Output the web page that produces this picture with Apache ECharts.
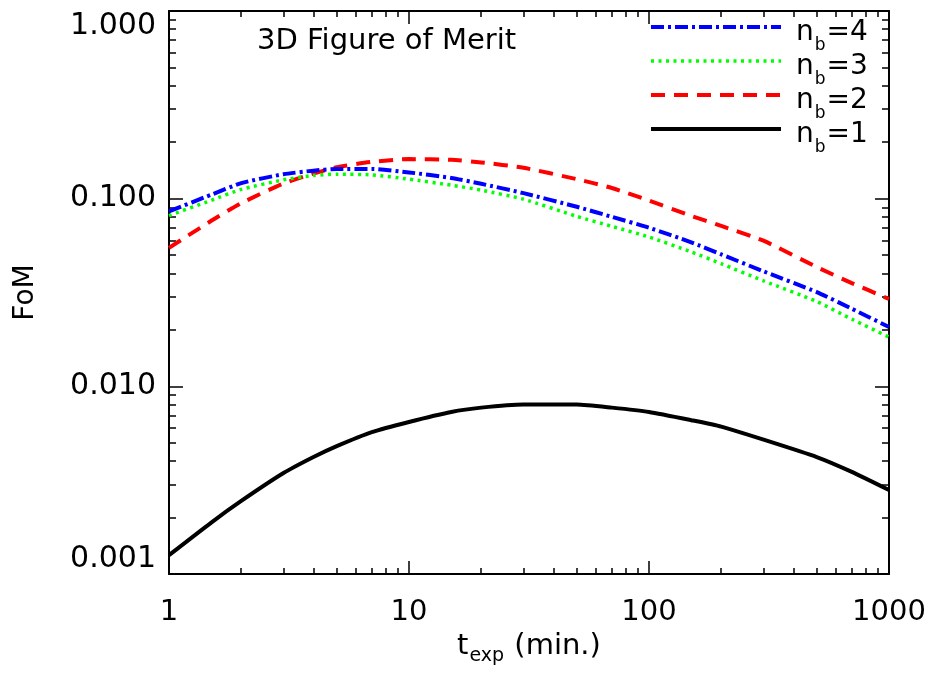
<!DOCTYPE html>
<html>
<head>
<meta charset="utf-8">
<title>3D Figure of Merit</title>
<script src="https://cdn.jsdelivr.net/npm/echarts@6.0.0/dist/echarts.min.js"></script>
<style>
  html, body { margin: 0; padding: 0; background: #fff; }
  #FomChart { width: 933px; height: 677px; }
</style>
</head>
<body>
<div id="FomChart"></div>
<script>
// exposure time (min.)
var texp = [1, 1.5, 2, 3, 4, 5, 7, 10, 15, 20, 30, 50, 70, 100, 150, 200, 300, 500, 700, 1000];
// FoM for each number of bins
var fomNb4 = [0.0855, 0.105, 0.121, 0.135, 0.141, 0.144, 0.144, 0.138, 0.129, 0.120, 0.107, 0.0905, 0.080, 0.070, 0.0585, 0.0505, 0.041, 0.0318, 0.0259, 0.0207];
var fomNb3 = [0.0813, 0.098, 0.112, 0.126, 0.133, 0.135, 0.134, 0.127, 0.118, 0.111, 0.0993, 0.0805, 0.0712, 0.0625, 0.052, 0.045, 0.0365, 0.0283, 0.0228, 0.0183];
var fomNb2 = [0.0547, 0.0762, 0.0946, 0.1205, 0.136, 0.147, 0.157, 0.1625, 0.161, 0.156, 0.146, 0.127, 0.114, 0.0977, 0.081, 0.0716, 0.0597, 0.0432, 0.0355, 0.0292];
var fomNb1 = [0.00126, 0.00188, 0.00245, 0.00345, 0.0042, 0.0048, 0.0057, 0.00646, 0.0073, 0.0077, 0.0080, 0.0080, 0.0077, 0.0073, 0.0066, 0.0061, 0.0052, 0.0042, 0.0035, 0.0028];

// tick labels
var xMajorTicks = [1, 10, 100, 1000];
var xMinorTicks = [2, 3, 4, 5, 6, 7, 8, 9, 20, 30, 40, 50, 60, 70, 80, 90, 200, 300, 400, 500, 600, 700, 800, 900];
var yMajorTicks = [0.001, 0.01, 0.1, 1];
var yMinorTicks = [0.002, 0.003, 0.004, 0.005, 0.006, 0.007, 0.008, 0.009,
  0.02, 0.03, 0.04, 0.05, 0.06, 0.07, 0.08, 0.09,
  0.2, 0.3, 0.4, 0.5, 0.6, 0.7, 0.8, 0.9];

var FONT = "DejaVu Sans";

function pairs(ys) {
  return texp.map(function (t, i) { return [t, ys[i]]; });
}

// one log axis: major ticks (with or without labels) or minor ticks only
function xAx(pos, minor, labels) {
  return {
    type: "log",
    logBase: 10,
    min: 1,
    max: 1000,
    position: pos,
    axisLine: { show: !minor, onZero: false, lineStyle: { color: "#000", width: 2 } },
    axisTick: {
      show: true,
      inside: true,
      length: minor ? 6 : 13,
      customValues: minor ? xMinorTicks : xMajorTicks,
      lineStyle: { color: "#000", width: 1.5 },
    },
    axisLabel: {
      show: !!labels,
      customValues: xMajorTicks,
      margin: 24,
      fontSize: 29,
      fontFamily: FONT,
      color: "#000",
      formatter: function (v) { return String(Math.round(v)); },
    },
    splitLine: { show: false },
  };
}

function yAx(pos, minor, labels) {
  return {
    type: "log",
    logBase: 10,
    min: 0.001,
    max: 1,
    position: pos,
    axisLine: { show: !minor, onZero: false, lineStyle: { color: "#000", width: 2 } },
    axisTick: {
      show: true,
      inside: true,
      length: minor ? 7 : 14,
      customValues: minor ? yMinorTicks : yMajorTicks,
      lineStyle: { color: "#000", width: 1.5 },
    },
    axisLabel: {
      show: !!labels,
      customValues: yMajorTicks,
      margin: 13,
      fontSize: 30,
      fontFamily: FONT,
      color: "#000",
      verticalAlignMinLabel: "bottom",
      verticalAlignMaxLabel: "top",
      formatter: function (v) { return Number(v).toFixed(3); },
    },
    splitLine: { show: false },
  };
}

// main text + lowered subscript, same recipe for axis name and legend
function subRich(mainSize, subSize, top, drop) {
  return {
    m: { fontSize: mainSize, lineHeight: mainSize, fontFamily: FONT, color: "#000", verticalAlign: "top", padding: [top, 0, 0, 0] },
    a: { fontSize: mainSize, lineHeight: mainSize, fontFamily: FONT, color: "#000", verticalAlign: "top", padding: [top, 0, 0, 10] },
    s: { fontSize: subSize, lineHeight: subSize, fontFamily: FONT, color: "#000", verticalAlign: "top", padding: [top + drop, 1, 0, 1] },
  };
}

var xBottom = xAx("bottom", false, true);
xBottom.name = "{m|t}{s|exp}{m| (min.)}";
xBottom.nameLocation = "middle";
xBottom.nameGap = 52;
xBottom.nameTextStyle = { fontFamily: FONT, color: "#000", rich: subRich(29, 19, 0, 15) };

var yLeft = yAx("left", false, true);
yLeft.name = "FoM";
yLeft.nameLocation = "middle";
yLeft.nameGap = 129;
yLeft.nameTextStyle = { fontSize: 28, fontFamily: FONT, color: "#000" };

var option = {
  animation: false,
  backgroundColor: "#fff",
  title: {
    text: "3D Figure of Merit",
    left: 257,
    top: 27,
    padding: 0,
    textStyle: { fontSize: 29, fontWeight: "normal", fontFamily: FONT, color: "#000" },
  },
  legend: {
    data: ["nb=4", "nb=3", "nb=2", "nb=1"],
    orient: "vertical",
    left: 649,
    top: 13,
    padding: 0,
    itemWidth: 130,
    itemHeight: 2,
    itemGap: -7,
    selectedMode: false,
    itemStyle: { opacity: 0 },
    lineStyle: { width: "inherit" },
    formatter: function (name) {
      return "{a|n}{s|b}{m|=" + name.slice(-1) + "}";
    },
    textStyle: { fontFamily: FONT, color: "#000", rich: subRich(28, 17, 6, 18) },
  },
  grid: {
    left: 169,
    right: 44,
    top: 11,
    bottom: 103,
    containLabel: false,
    outerBoundsMode: "none",
  },
  xAxis: [xBottom, xAx("bottom", true), xAx("top", false), xAx("top", true)],
  yAxis: [yLeft, yAx("left", true), yAx("right", false), yAx("right", true)],
  series: [
    {
      name: "nb=1",
      type: "line",
      symbol: "none",
      smooth: 0.2,
      lineStyle: { color: "#000000", width: 4, type: "solid" },
      itemStyle: { color: "#000000" },
      data: pairs(fomNb1),
    },
    {
      name: "nb=2",
      type: "line",
      symbol: "none",
      smooth: 0.2,
      lineStyle: { color: "#ff0000", width: 4, type: [14, 9] },
      itemStyle: { color: "#ff0000" },
      data: pairs(fomNb2),
    },
    {
      name: "nb=3",
      type: "line",
      symbol: "none",
      smooth: 0.2,
      lineStyle: { color: "#00ff00", width: 3.5, type: [3, 4.5] },
      itemStyle: { color: "#00ff00" },
      data: pairs(fomNb3),
    },
    {
      name: "nb=4",
      type: "line",
      symbol: "none",
      smooth: 0.2,
      lineStyle: { color: "#0000ff", width: 4, type: [13, 4, 3, 4] },
      itemStyle: { color: "#0000ff" },
      data: pairs(fomNb4),
    },
  ],
};

var myChart = echarts.init(document.getElementById("FomChart"));
option && myChart.setOption(option);
</script>
</body>
</html>
